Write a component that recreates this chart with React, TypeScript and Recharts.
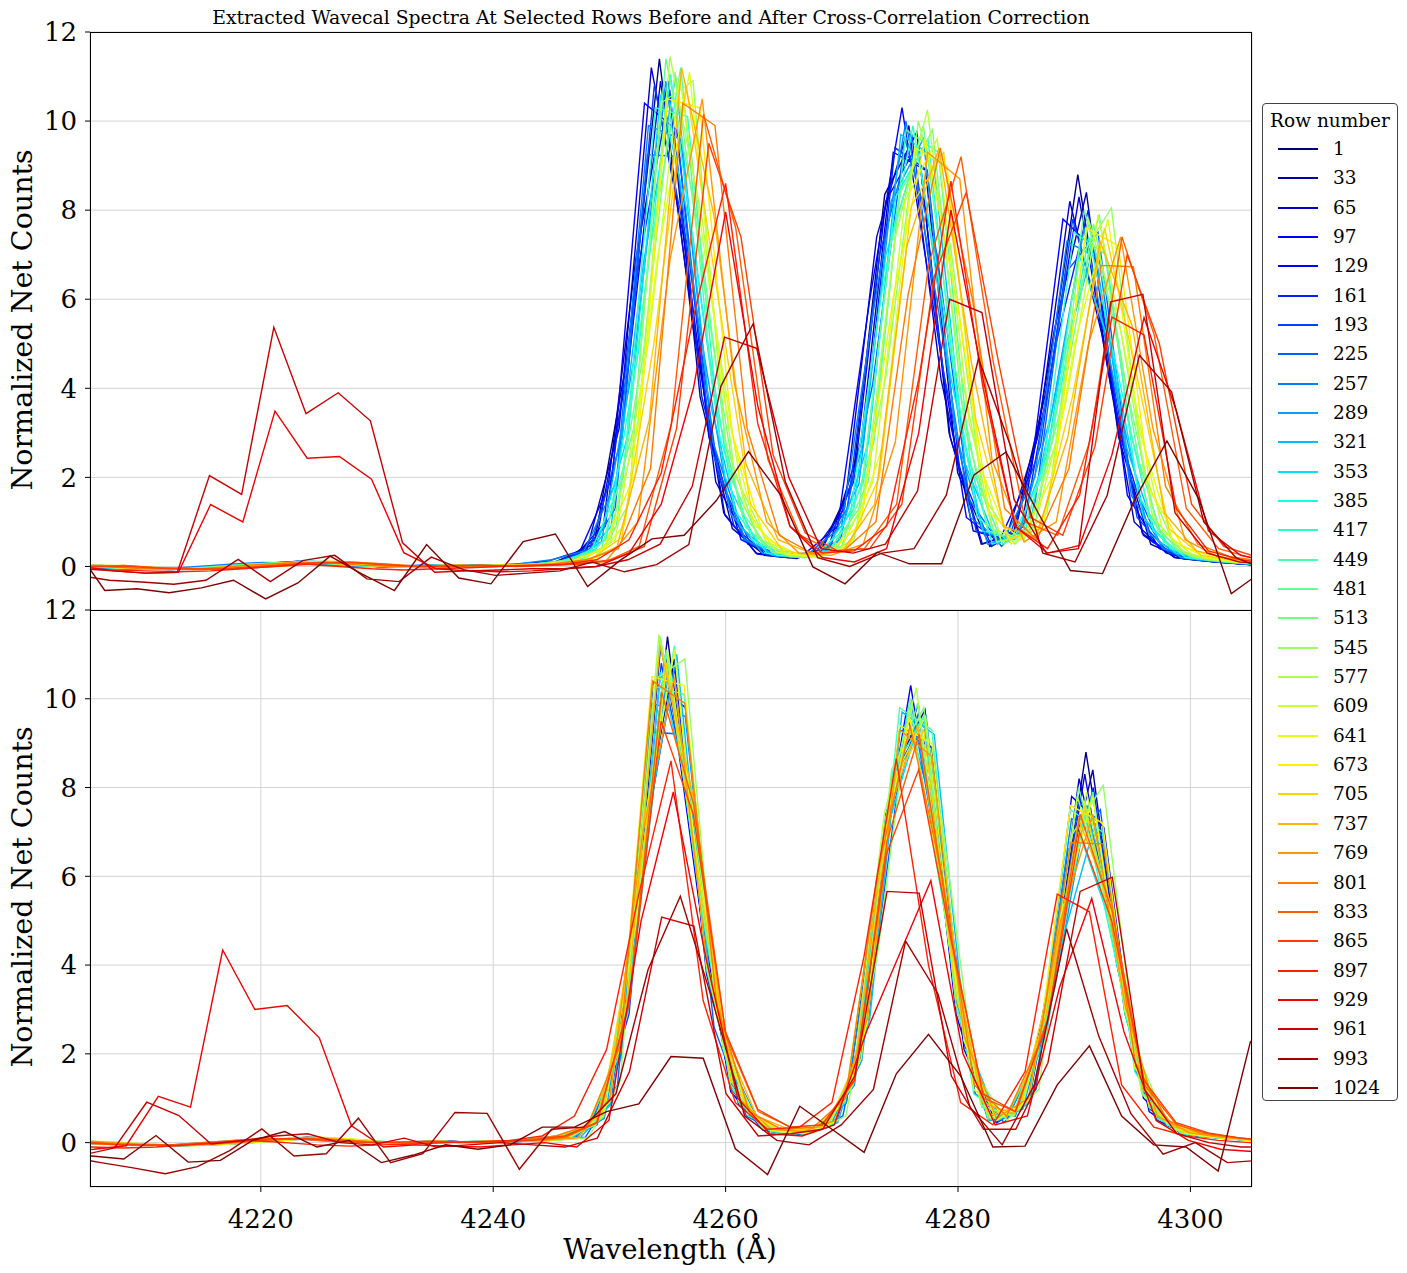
import { CartesianGrid, Line, LineChart, XAxis, YAxis } from "recharts"

// dispersion of the extracted spectra, Å per pixel
const STEP = 2.77

const rowNumbers = [
  1, 33, 65, 97, 129, 161, 193, 225, 257, 289, 321, 353, 385, 417, 449, 481, 513,
  545, 577, 609, 641, 673, 705, 737, 769, 801, 833, 865, 897, 929, 961, 993, 1024,
]

const waveTicks = [4220, 4240, 4260, 4280, 4300]
const countTicks = [0, 2, 4, 6, 8, 10, 12]

// normalized net counts per pixel for each row
const row1 = [0.0, 0.02, -0.03, -0.05, -0.06, -0.03, 0.02, 0.07, 0.1, 0.06, 0.01, -0.01, 0.02, 0.01, 0.03, 0.05, 0.12, 0.6, 4.7, 11.4, 5.6, 1.2, 0.3, 0.2, 0.35, 1.9, 8.35, 9.75, 3.0, 0.5, 0.75, 3.9, 8.8, 4.2, 0.75, 0.2, 0.12, 0.06, 0.0, -0.02]
const row33 = [0.01, 0.0, -0.04, -0.06, -0.05, 0.0, 0.05, 0.09, 0.08, 0.03, 0.0, 0.01, 0.03, 0.0, 0.02, 0.06, 0.14, 0.95, 6.9, 10.9, 3.8, 0.85, 0.25, 0.18, 0.45, 2.8, 9.3, 8.9, 2.1, 0.45, 0.95, 5.3, 8.4, 2.9, 0.5, 0.17, 0.1, 0.05, 0.0, 0.0]
const row65 = [0.02, 0.03, -0.01, -0.04, -0.07, -0.04, 0.0, 0.05, 0.12, 0.08, 0.02, -0.02, 0.0, 0.02, 0.04, 0.04, 0.1, 0.4, 3.1, 11.2, 7.4, 1.9, 0.5, 0.22, 0.3, 1.3, 7.4, 9.9, 4.2, 0.8, 0.6, 2.9, 8.2, 5.2, 1.0, 0.3, 0.15, 0.08, 0.02, 0.0]
const row97 = [0.0, 0.02, -0.02, -0.05, -0.05, -0.02, 0.03, 0.08, 0.09, 0.05, 0.01, 0.0, 0.02, 0.01, 0.03, 0.05, 0.11, 0.55, 4.5, 10.9, 5.5, 1.15, 0.28, 0.2, 0.35, 1.9, 8.2, 9.5, 2.9, 0.5, 0.75, 3.8, 8.3, 4.0, 0.7, 0.2, 0.12, 0.06, 0.0, 0.0]
const row129 = [0.01, 0.02, -0.03, -0.05, -0.06, -0.03, 0.02, 0.07, 0.1, 0.06, 0.01, -0.01, 0.02, 0.01, 0.03, 0.05, 0.12, 0.35, 2.0, 10.4, 9.8, 2.9, 0.6, 0.25, 0.3, 0.9, 6.0, 10.3, 5.7, 1.1, 0.55, 2.1, 7.8, 7.1, 1.6, 0.4, 0.18, 0.1, 0.03, 0.0]
const row161 = [0.0, 0.0, -0.04, -0.06, -0.05, 0.0, 0.05, 0.09, 0.08, 0.03, 0.0, 0.01, 0.03, 0.0, 0.02, 0.06, 0.15, 0.9, 6.6, 10.7, 3.8, 0.9, 0.25, 0.2, 0.45, 2.7, 9.4, 8.9, 2.2, 0.45, 0.9, 5.0, 8.0, 2.9, 0.55, 0.18, 0.1, 0.05, 0.0, 0.0]
const row193 = [0.02, 0.03, -0.01, -0.04, -0.07, -0.04, 0.0, 0.05, 0.12, 0.08, 0.02, -0.02, 0.0, 0.02, 0.04, 0.04, 0.1, 0.4, 2.9, 10.8, 7.3, 2.0, 0.5, 0.25, 0.3, 1.3, 7.0, 9.7, 4.3, 0.8, 0.6, 2.7, 7.8, 5.2, 1.1, 0.3, 0.15, 0.08, 0.02, 0.0]
const row225 = [0.0, 0.02, -0.03, -0.05, -0.06, -0.03, 0.02, 0.07, 0.1, 0.06, 0.01, -0.01, 0.02, 0.01, 0.03, 0.05, 0.12, 1.3, 9.25, 9.2, 2.6, 0.6, 0.22, 0.22, 0.6, 4.1, 9.6, 7.0, 1.5, 0.45, 1.2, 6.6, 7.5, 2.0, 0.4, 0.15, 0.08, 0.04, 0.0, 0.0]
const row257 = [0.01, 0.0, -0.04, -0.06, -0.05, 0.0, 0.05, 0.09, 0.08, 0.03, 0.0, 0.01, 0.03, 0.0, 0.02, 0.06, 0.15, 0.35, 1.9, 9.9, 9.6, 2.8, 0.6, 0.25, 0.3, 0.9, 5.8, 10.0, 5.8, 1.1, 0.55, 2.0, 7.3, 6.9, 1.6, 0.4, 0.18, 0.1, 0.03, 0.0]
const row289 = [0.0, 0.03, -0.01, -0.04, -0.07, -0.04, 0.0, 0.05, 0.12, 0.08, 0.02, -0.02, 0.0, 0.02, 0.04, 0.04, 0.1, 0.55, 4.6, 10.9, 5.6, 1.2, 0.3, 0.2, 0.35, 1.85, 8.2, 9.6, 3.0, 0.5, 0.75, 3.5, 7.6, 3.9, 0.75, 0.2, 0.12, 0.06, 0.0, 0.0]
const row321 = [0.0, 0.02, -0.02, -0.05, -0.05, -0.02, 0.03, 0.08, 0.09, 0.05, 0.01, 0.0, 0.02, 0.01, 0.03, 0.05, 0.11, 0.9, 6.8, 11.0, 3.9, 0.9, 0.25, 0.2, 0.45, 2.8, 9.7, 9.2, 2.3, 0.5, 0.9, 4.6, 7.2, 2.7, 0.55, 0.18, 0.1, 0.05, 0.0, 0.0]
const row353 = [0.01, 0.02, -0.03, -0.05, -0.06, -0.03, 0.02, 0.07, 0.1, 0.06, 0.01, -0.01, 0.02, 0.01, 0.03, 0.05, 0.12, 0.4, 3.0, 10.6, 7.4, 2.0, 0.5, 0.25, 0.3, 1.3, 7.0, 9.4, 4.3, 0.8, 0.6, 2.5, 7.0, 4.9, 1.1, 0.3, 0.15, 0.08, 0.02, 0.0]
const row385 = [0.0, 0.0, -0.04, -0.06, -0.05, 0.0, 0.05, 0.09, 0.08, 0.03, 0.0, 0.01, 0.03, 0.0, 0.02, 0.06, 0.15, 0.6, 4.8, 11.05, 5.7, 1.25, 0.3, 0.2, 0.35, 1.9, 8.3, 9.6, 3.1, 0.5, 0.75, 3.5, 7.4, 4.0, 0.8, 0.2, 0.12, 0.06, 0.0, 0.0]
const row417 = [0.02, 0.03, -0.01, -0.04, -0.07, -0.04, 0.0, 0.05, 0.12, 0.08, 0.02, -0.02, 0.0, 0.02, 0.04, 0.04, 0.1, 0.35, 2.0, 10.3, 10.1, 2.9, 0.6, 0.25, 0.3, 0.9, 6.0, 9.9, 5.6, 1.1, 0.55, 2.0, 7.5, 7.0, 1.6, 0.4, 0.18, 0.1, 0.03, 0.0]
const row449 = [0.0, 0.02, -0.03, -0.05, -0.06, -0.03, 0.02, 0.07, 0.1, 0.06, 0.01, -0.01, 0.02, 0.01, 0.03, 0.05, 0.12, 0.9, 6.9, 11.2, 3.9, 0.9, 0.25, 0.2, 0.45, 2.8, 9.8, 9.3, 2.3, 0.5, 0.9, 5.0, 7.9, 2.9, 0.55, 0.18, 0.1, 0.05, 0.0, 0.0]
const row481 = [0.01, 0.0, -0.04, -0.06, -0.05, 0.0, 0.05, 0.09, 0.08, 0.03, 0.0, 0.01, 0.03, 0.0, 0.02, 0.06, 0.15, 0.4, 3.1, 11.4, 7.7, 2.0, 0.5, 0.25, 0.3, 1.3, 7.3, 9.9, 4.4, 0.8, 0.6, 2.8, 8.0, 5.3, 1.1, 0.3, 0.15, 0.08, 0.02, 0.0]
const row513 = [0.0, 0.03, -0.01, -0.04, -0.07, -0.04, 0.0, 0.05, 0.12, 0.08, 0.02, -0.02, 0.0, 0.02, 0.04, 0.04, 0.1, 0.55, 4.7, 11.1, 5.8, 1.3, 0.32, 0.2, 0.35, 1.9, 8.4, 9.8, 3.1, 0.55, 0.75, 3.6, 7.7, 4.1, 0.8, 0.22, 0.12, 0.06, 0.0, 0.0]
const row545 = [0.0, 0.02, -0.02, -0.05, -0.05, -0.02, 0.03, 0.08, 0.09, 0.05, 0.01, 0.0, 0.02, 0.01, 0.03, 0.05, 0.11, 1.4, 10.4, 10.9, 2.8, 0.65, 0.22, 0.22, 0.6, 4.3, 10.0, 7.2, 1.6, 0.5, 1.2, 6.9, 8.05, 2.1, 0.4, 0.15, 0.08, 0.04, 0.0, 0.0]
const row577 = [0.01, 0.02, -0.03, -0.05, -0.06, -0.03, 0.02, 0.07, 0.1, 0.06, 0.01, -0.01, 0.02, 0.01, 0.03, 0.05, 0.12, 0.4, 3.1, 11.45, 7.8, 2.1, 0.55, 0.25, 0.3, 1.3, 7.4, 10.25, 4.5, 0.85, 0.6, 2.8, 7.8, 5.3, 1.1, 0.3, 0.15, 0.08, 0.02, 0.0]
const row609 = [0.0, 0.0, -0.04, -0.06, -0.05, 0.0, 0.05, 0.09, 0.08, 0.03, 0.0, 0.01, 0.03, 0.0, 0.02, 0.06, 0.15, 0.6, 4.9, 11.0, 5.9, 1.35, 0.33, 0.22, 0.38, 1.9, 8.2, 9.6, 3.2, 0.55, 0.8, 3.7, 7.9, 4.2, 0.8, 0.22, 0.12, 0.06, 0.0, 0.0]
const row641 = [0.0, 0.03, -0.01, -0.04, -0.07, -0.04, 0.0, 0.05, 0.12, 0.08, 0.02, -0.02, 0.0, 0.02, 0.04, 0.04, 0.1, 0.95, 6.9, 11.1, 4.0, 0.95, 0.28, 0.2, 0.48, 2.7, 9.4, 9.0, 2.3, 0.5, 0.95, 5.1, 7.8, 3.0, 0.6, 0.2, 0.1, 0.05, 0.0, 0.0]
const row673 = [0.02, 0.02, -0.03, -0.05, -0.06, -0.03, 0.02, 0.07, 0.1, 0.06, 0.01, -0.01, 0.02, 0.01, 0.03, 0.05, 0.12, 0.4, 2.1, 10.5, 10.3, 3.0, 0.65, 0.28, 0.32, 0.95, 6.0, 9.6, 5.9, 1.2, 0.6, 2.1, 7.6, 7.2, 1.7, 0.45, 0.2, 0.1, 0.04, 0.0]
const row705 = [0.0, 0.0, -0.04, -0.06, -0.05, 0.0, 0.05, 0.09, 0.08, 0.03, 0.0, 0.01, 0.03, 0.0, 0.02, 0.06, 0.15, 0.65, 5.0, 10.8, 6.0, 1.4, 0.35, 0.25, 0.4, 2.0, 8.1, 9.3, 3.3, 0.6, 0.85, 3.8, 7.6, 4.3, 0.85, 0.25, 0.14, 0.07, 0.0, 0.0]
const row737 = [0.01, 0.03, -0.01, -0.04, -0.07, -0.04, 0.0, 0.05, 0.12, 0.08, 0.02, -0.02, 0.0, 0.02, 0.04, 0.04, 0.1, 0.45, 3.3, 11.2, 7.9, 2.3, 0.6, 0.3, 0.35, 1.4, 7.2, 9.4, 4.6, 0.9, 0.65, 2.9, 7.3, 5.4, 1.2, 0.35, 0.18, 0.1, 0.03, 0.0]
const row769 = [0.0, 0.0, 0.02, -0.02, -0.05, -0.05, -0.02, 0.03, 0.08, 0.09, 0.05, 0.01, 0.0, 0.02, 0.01, 0.03, 0.05, 0.11, 1.0, 6.9, 10.5, 4.1, 1.0, 0.3, 0.25, 0.5, 2.8, 9.3, 8.7, 2.4, 0.55, 1.0, 5.0, 7.4, 3.1, 0.6, 0.22, 0.12, 0.06, 0.0, 0.0]
const row801 = [0.01, 0.0, -0.04, -0.06, -0.05, 0.0, 0.05, 0.09, 0.08, 0.03, 0.0, 0.01, 0.03, 0.0, 0.02, 0.06, 0.15, 0.4, 2.2, 10.4, 9.9, 3.1, 0.7, 0.3, 0.35, 1.0, 6.1, 9.4, 6.0, 1.3, 0.6, 2.2, 6.76, 6.73, 1.8, 0.5, 0.22, 0.12, 0.05, 0.0]
const row833 = [0.0, 0.0, 0.02, -0.03, -0.05, -0.06, -0.03, 0.02, 0.07, 0.1, 0.06, 0.01, -0.01, 0.02, 0.01, 0.03, 0.05, 0.12, 0.45, 3.2, 10.15, 7.6, 2.4, 0.7, 0.35, 0.4, 1.4, 6.8, 9.2, 4.6, 1.0, 0.7, 2.8, 7.4, 5.2, 1.3, 0.4, 0.2, 0.1, 0.04, 0.0]
const row865 = [0.0, 0.0, 0.0, -0.04, -0.06, -0.05, 0.0, 0.05, 0.09, 0.08, 0.03, 0.0, 0.01, 0.03, 0.0, 0.02, 0.06, 0.15, 0.45, 3.1, 9.5, 7.4, 2.5, 0.75, 0.35, 0.4, 1.4, 6.5, 8.4, 4.6, 1.1, 0.7, 2.7, 7.0, 5.0, 1.4, 0.45, 0.22, 0.1, 0.05, 0.0]
const row897 = [-0.05, -0.08, -0.1, -0.12, -0.1, -0.05, 0.0, 0.05, 0.0, -0.05, -0.08, -0.05, -0.03, 0.0, 0.02, 0.05, 0.15, 0.6, 2.1, 5.6, 8.6, 3.2, 0.9, 0.3, 0.35, 0.9, 4.2, 8.65, 4.0, 0.9, 0.4, 1.6, 5.6, 5.2, 1.3, 0.35, 0.15, 0.05, 0.0, 0.0]
const row929 = [0.0, -0.1, -0.15, -0.13, 1.39, 1.0, 3.49, 2.43, 2.47, 1.96, 0.31, -0.05, -0.1, -0.12, -0.1, -0.05, 0.0, 0.3, 1.4, 4.0, 7.96, 3.6, 0.9, 0.2, 0.1, 0.4, 3.0, 8.0, 4.2, 0.9, 0.3, 0.47, 2.5, 5.59, 3.5, 0.8, 0.25, 0.1]
const row961 = [-0.05, -0.1, -0.15, -0.13, 2.04, 1.62, 5.37, 3.43, 3.9, 3.27, 0.53, -0.13, -0.1, -0.08, -0.05, -0.05, 0.0, 0.15, 0.5, 1.8, 5.15, 4.9, 2.0, 0.4, 0.3, 0.5, 1.7, 6.0, 5.7, 1.5, 0.3, 0.4, 5.94, 6.11, 1.2, 0.3, 0.1, 0.05]
const row993 = [-0.2, -0.31, -0.35, -0.4, -0.31, 0.16, -0.34, 0.13, 0.25, -0.28, -0.34, 0.21, -0.07, -0.2, -0.15, -0.1, 0.1, -0.12, 0.04, 0.49, 4.05, 5.45, 1.9, 0.2, 0.0, 0.3, 0.4, 1.6, 4.67, 2.7, 0.3, 0.1, 1.6, 4.74, 3.92, 1.0, 0.2, -0.1]
const row1024 = [0.5, -0.54, -0.5, -0.59, -0.48, -0.31, -0.73, -0.37, 0.23, -0.17, -0.54, 0.49, -0.26, -0.39, 0.56, 0.73, -0.45, 0.13, 0.62, 0.7, 1.48, 2.58, 1.6, -0.01, -0.39, 0.32, 0.06, 0.06, 2.05, 2.57, 1.2, -0.09, -0.16, 1.5, 2.82, 1.5, -0.61, -0.09]

// the faintest rows were re-extracted after the shift was applied
const row929After = [-0.3, -0.2, -0.15, -0.07, 1.04, 0.8, 4.34, 3.0, 3.09, 2.36, 0.38, -0.1, -0.05, -0.08, -0.1, -0.05, 0.0, -0.1, 0.5, 5.0, 7.9, 4.2, 1.0, 0.2, 0.15, 0.4, 2.5, 4.2, 5.9, 2.0, 0.4, 0.6, 3.5, 5.5, 2.5, 0.5, 0.05, -0.15, -0.2, -0.2]
const row961After = [-0.2, -0.25, -0.28, -0.12, 0.91, 0.61, -0.03, 0.05, 0.15, 0.2, 0.0, -0.05, 0.1, -0.1, -0.05, 0.0, -0.05, -0.1, 0.1, 1.6, 5.08, 4.88, 1.1, 0.15, 0.2, 0.3, 1.5, 5.66, 5.62, 1.5, 0.3, 0.3, 1.8, 5.66, 5.98, 1.2, 0.2, 0.0, -0.1, -0.1]
const row993After = [-0.3, -0.3, -0.33, -0.45, -0.57, -0.7, -0.54, -0.18, 0.31, -0.3, -0.25, 0.55, -0.45, -0.25, 0.68, 0.66, -0.6, 0.3, 0.35, 1.1, 3.9, 5.55, 3.2, 0.6, 0.05, -0.05, 0.4, 1.2, 4.54, 3.36, 0.8, -0.05, 1.3, 4.82, 2.4, 0.65, -0.26, 0.0, -0.45, -0.4]
const row1024After = [-0.3, -0.3, -0.3, -0.37, 0.16, -0.44, -0.4, 0.05, 0.25, -0.1, 0.05, -0.45, -0.28, -0.05, -0.15, -0.05, 0.35, 0.35, 0.7, 0.87, 1.94, 1.9, -0.14, -0.72, 0.82, 0.3, -0.22, 1.55, 2.44, 1.5, -0.1, -0.08, 1.3, 2.18, 0.6, -0.05, -0.1, -0.64, 2.27, 1.5]

// wavelength of the first pixel, from the original wavecal
const startBefore = [
  4201.67, 4202.41, 4200.98, 4201.77, 4200.39, 4202.56, 4201.23, 4203.41, 4200.73, 4202.22, 4203.06,
  4201.78, 4202.62, 4201.33, 4203.51, 4202.23, 4203.02, 4204.56, 4202.58, 4203.42, 4204.26, 4202.38,
  4203.97, 4203.58, 4202.59, 4203.68, 4202.7, 4203.15, 4204.6, 4204.6, 4204.5, 4204.2, 4203.8,
]

// ... and after the cross-correlation shift
const startAfter = [
  4202.37, 4202.96, 4201.78, 4202.27, 4201.14, 4203.01, 4201.83, 4203.61, 4201.13, 4202.47, 4203.16,
  4201.78, 4202.27, 4201.03, 4202.96, 4201.73, 4202.27, 4203.86, 4201.63, 4202.42, 4202.96, 4201.03,
  4202.27, 4201.73, 4200.19, 4201.08, 4199.1, 4199.05, 4199.9, 4200.1, 4199.1, 4197.93, 4199.9,
]

const fluxBefore = [
  row1, row33, row65, row97, row129, row161, row193, row225, row257, row289, row321, row353, row385,
  row417, row449, row481, row513, row545, row577, row609, row641, row673, row705, row737, row769,
  row801, row833, row865, row897, row929, row961, row993, row1024,
]

const fluxAfter = [
  row1, row33, row65, row97, row129, row161, row193, row225, row257, row289, row321, row353, row385,
  row417, row449, row481, row513, row545, row577, row609, row641, row673, row705, row737, row769,
  row801, row833, row865, row897, row929After, row961After, row993After, row1024After,
]

// matplotlib "jet"
const JET_R = [[0, 0], [0.35, 0], [0.66, 1], [0.89, 1], [1, 0.5]]
const JET_G = [[0, 0], [0.125, 0], [0.375, 1], [0.64, 1], [0.91, 0], [1, 0]]
const JET_B = [[0, 0.5], [0.11, 1], [0.34, 1], [0.65, 0], [1, 0]]

function seg(pts: number[][], t: number) {
  for (let i = 1; i < pts.length; i++) {
    if (t <= pts[i][0]) {
      const [x0, y0] = pts[i - 1]
      const [x1, y1] = pts[i]
      return y0 + ((y1 - y0) * (t - x0)) / (x1 - x0)
    }
  }
  return pts[pts.length - 1][1]
}

function jet(t: number) {
  const c = (v: number) => Math.round(v * 255)
  return `rgb(${c(seg(JET_R, t))},${c(seg(JET_G, t))},${c(seg(JET_B, t))})`
}

const colors = rowNumbers.map((_, i) => jet(i / (rowNumbers.length - 1)))

function toPoints(flux: number[], start: number) {
  return flux.map((y, k) => ({ x: start + k * STEP, y }))
}

const FONT = "'DejaVu Serif', serif"
const tickStyle = { fill: "#000", fontSize: 26, fontFamily: FONT }

type PanelProps = {
  top: number
  height: number
  xAxisHeight: number
  showX: boolean
  flux: number[][]
  starts: number[]
}

function Panel({ top, height, xAxisHeight, showX, flux, starts }: PanelProps) {
  return (
    <div style={{ position: "absolute", left: 0, top }}>
      <LineChart width={1260} height={height} margin={{ top: 32, right: 8, bottom: 0, left: 30 }}>
        <CartesianGrid stroke="#d3d3d3" strokeWidth={1} />
        <XAxis
          type="number"
          dataKey="x"
          domain={[4205.3, 4305.3]}
          ticks={waveTicks}
          allowDataOverflow
          height={xAxisHeight}
          axisLine={false}
          tick={showX ? tickStyle : false}
          tickLine={showX ? { stroke: "#000" } : false}
          tickSize={5}
          tickMargin={18}
        />
        <YAxis
          type="number"
          domain={[-1, 12]}
          ticks={countTicks}
          allowDataOverflow
          width={60}
          axisLine={false}
          tick={tickStyle}
          tickLine={{ stroke: "#000" }}
          tickSize={5}
          tickMargin={8}
        />
        {flux.map((f, i) => (
          <Line
            key={rowNumbers[i]}
            data={toPoints(f, starts[i])}
            dataKey="y"
            stroke={colors[i]}
            strokeWidth={1.4}
            dot={false}
            isAnimationActive={false}
          />
        ))}
      </LineChart>
    </div>
  )
}

export default function App() {
  return (
    <div
      style={{
        position: "absolute",
        left: 0,
        top: 0,
        width: 1407,
        height: 1273,
        background: "#fff",
        fontFamily: FONT,
        color: "#000",
      }}
    >
      <Panel top={0} height={611} xAxisHeight={0} showX={false} flux={fluxBefore} starts={startBefore} />
      <Panel top={578} height={695} xAxisHeight={86} showX flux={fluxAfter} starts={startAfter} />

      {/* panel frames */}
      <div style={{ position: "absolute", left: 90, top: 32, width: 1162, height: 579, border: "1px solid #000", boxSizing: "border-box" }} />
      <div style={{ position: "absolute", left: 90, top: 610, width: 1162, height: 577, border: "1px solid #000", boxSizing: "border-box" }} />

      <div style={{ position: "absolute", left: 651, top: 18, transform: "translate(-50%, -50%)", fontSize: 18.8, lineHeight: 1, whiteSpace: "nowrap" }}>
        Extracted Wavecal Spectra At Selected Rows Before and After Cross-Correlation Correction
      </div>

      {[320, 897].map((cy) => (
        <div
          key={cy}
          style={{
            position: "absolute",
            left: 23,
            top: cy,
            transform: "translate(-50%, -50%) rotate(-90deg)",
            fontSize: 28.5,
            lineHeight: 1,
            whiteSpace: "nowrap",
          }}
        >
          Normalized Net Counts
        </div>
      ))}

      <div style={{ position: "absolute", left: 670, top: 1250, transform: "translate(-50%, -50%)", fontSize: 27.5, lineHeight: 1, whiteSpace: "nowrap" }}>
        Wavelength (Å)
      </div>

      {/* row legend */}
      <div
        style={{
          position: "absolute",
          left: 1262,
          top: 103,
          width: 136,
          height: 998,
          border: "1px solid #444",
          borderRadius: 4,
          boxSizing: "border-box",
          background: "rgba(255,255,255,0.8)",
        }}
      >
        <div style={{ position: "absolute", left: 0, right: 0, top: 17, transform: "translateY(-50%)", textAlign: "center", fontSize: 18.5, lineHeight: 1, whiteSpace: "nowrap" }}>
          Row number
        </div>
        {rowNumbers.map((r, i) => (
          <div key={r} style={{ position: "absolute", left: 0, top: Math.round(45 + i * 29.34), height: 0 }}>
            <div style={{ position: "absolute", left: 15, top: -1, width: 40, height: 2, background: colors[i] }} />
            <div style={{ position: "absolute", left: 70, top: 0, transform: "translateY(-50%)", fontSize: 18.5, lineHeight: 1, whiteSpace: "nowrap" }}>{r}</div>
          </div>
        ))}
      </div>
    </div>
  )
}
